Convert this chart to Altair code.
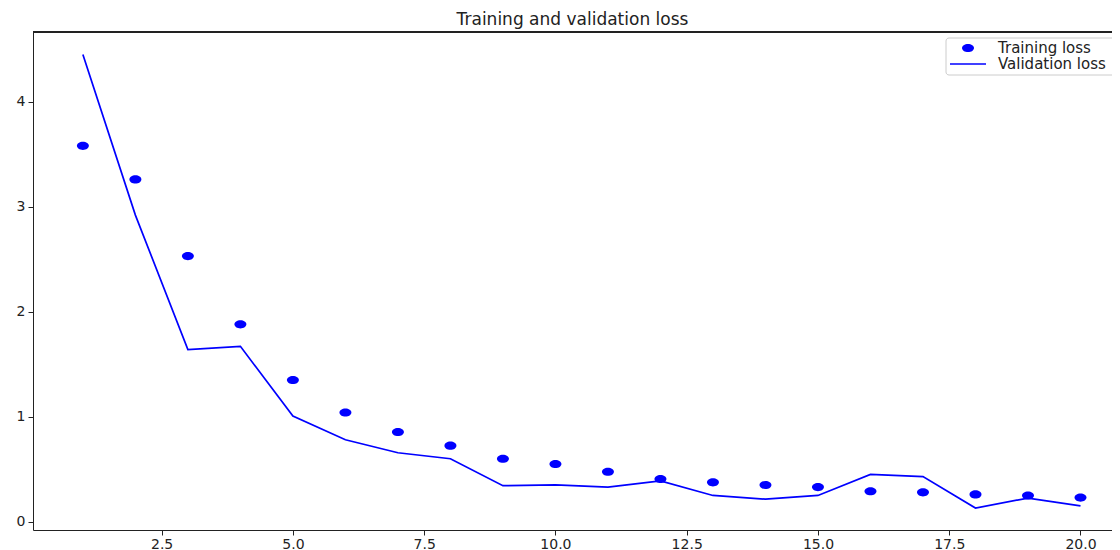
import altair as alt
import pandas as pd

epochs = list(range(1, 21))
training_loss = [3.58, 3.26, 2.53, 1.88, 1.35, 1.04, 0.854, 0.724, 0.60, 0.55,
                 0.476, 0.407, 0.375, 0.35, 0.33, 0.29, 0.28, 0.26, 0.25, 0.23]
validation_loss = [4.45, 2.92, 1.64, 1.67, 1.007, 0.78, 0.657, 0.60, 0.343, 0.35,
                   0.33, 0.388, 0.25, 0.215, 0.25, 0.45, 0.43, 0.13, 0.225, 0.15]
x_ticks = [2.5, 5.0, 7.5, 10.0, 12.5, 15.0, 17.5, 20.0]
y_ticks = [0, 1, 2, 3, 4]
series_names = ["Training loss", "Validation loss"]

df = pd.DataFrame({"epoch": epochs, "train": training_loss, "val": validation_loss})

W, H = 1079, 498
BLUE = "#0000ff"
FONT = "DejaVu Sans"
ELLIPSE = "M -1 0 A 1 0.68 0 1 1 1 0 A 1 0.68 0 1 1 -1 0 Z"

xscale = alt.Scale(domain=[0.05, 20.6], nice=False, zero=False)
yscale = alt.Scale(domain=[-0.079, 4.664], nice=False, zero=False)

xaxis = alt.Axis(values=x_ticks, format=".1f", title=None, grid=False,
                 domainColor="#222", tickColor="#222", labelColor="#222",
                 labelFont=FONT, labelFontSize=14, tickSize=5, labelPadding=2,
                 labelFlush=False)
yaxis = alt.Axis(values=y_ticks, format="d", title=None, grid=False,
                 domainColor="#222", tickColor="#222", labelColor="#222",
                 labelFont=FONT, labelFontSize=14, tickSize=5, labelPadding=3)

base = alt.Chart(df)

line = base.mark_line(color=BLUE, strokeWidth=1.7).encode(
    x=alt.X("epoch:Q", scale=xscale, axis=xaxis),
    y=alt.Y("val:Q", scale=yscale, axis=yaxis),
)

points = base.mark_point(shape=ELLIPSE, size=144, filled=True, color=BLUE, opacity=1).encode(
    x=alt.X("epoch:Q", scale=xscale),
    y=alt.Y("train:Q", scale=yscale),
)

top_spine = base.mark_rule(color="#222", strokeWidth=1).encode(
    x=alt.value(0), x2=alt.value(W), y=alt.value(0)
)

leg_df = pd.DataFrame({"name": series_names})
leg_box = alt.Chart(leg_df.head(1)).mark_rect(
    fill="white", stroke="#cccccc", strokeWidth=1, cornerRadius=3, fillOpacity=0.8
).encode(x=alt.value(913), x2=alt.value(1200), y=alt.value(6), y2=alt.value(43))

leg_dot = alt.Chart(leg_df.head(1)).mark_point(
    shape=ELLIPSE, size=144, filled=True, color=BLUE, opacity=1
).encode(x=alt.value(935), y=alt.value(16))

leg_line = alt.Chart(leg_df.head(1)).mark_rule(color=BLUE, strokeWidth=1.7).encode(
    x=alt.value(917), x2=alt.value(953), y=alt.value(32)
)

leg_text1 = alt.Chart(leg_df.head(1)).mark_text(
    align="left", baseline="middle", font=FONT, fontSize=15, color="#222"
).encode(x=alt.value(965), y=alt.value(16), text="name:N")

leg_text2 = alt.Chart(leg_df.tail(1)).mark_text(
    align="left", baseline="middle", font=FONT, fontSize=15, color="#222"
).encode(x=alt.value(965), y=alt.value(32), text="name:N")

chart = alt.layer(
    line, points, top_spine, leg_box, leg_dot, leg_line, leg_text1, leg_text2
).properties(
    width=W, height=H,
    title=alt.TitleParams("Training and validation loss", font=FONT, fontSize=17,
                          fontWeight="normal", color="#222", anchor="middle", offset=3),
    autosize=alt.AutoSizeParams(type="none"),
    padding={"left": 25, "top": 24, "right": 0, "bottom": 22},
).configure_view(stroke=None)

chart.save("out.html", embed_options={"renderer": "svg", "actions": False})
